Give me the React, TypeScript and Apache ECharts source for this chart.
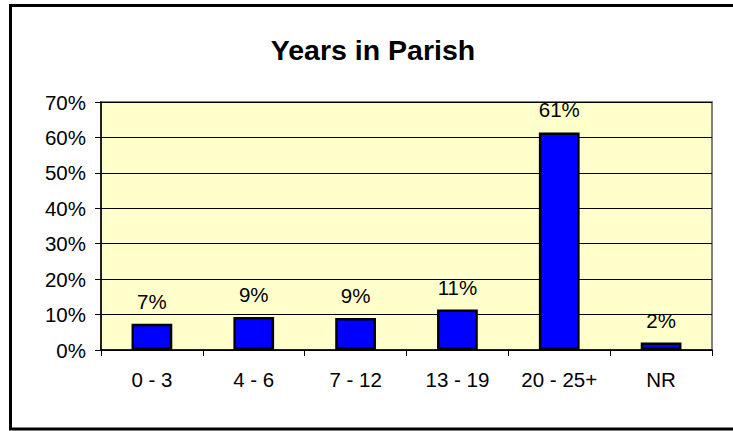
import React, { useEffect, useRef } from "react";
import * as echarts from "echarts";

const categories = ["0 - 3", "4 - 6", "7 - 12", "13 - 19", "20 - 25+", "NR"];
const values = [7.4, 9.3, 9.0, 11.4, 61.4, 2.1];
const yTicks = [0, 10, 20, 30, 40, 50, 60, 70];

export default function App() {
  const ref = useRef<HTMLDivElement>(null);
  useEffect(() => {
    document.body.style.margin = "0";
    const chart = echarts.init(ref.current!, null, { renderer: "svg" });
    const font = "'Liberation Sans', Arial, sans-serif";
    chart.setOption({
      animation: false,
      backgroundColor: "#ffffff",
      title: {
        text: "Years in Parish",
        left: 368,
        top: 30,
        textAlign: "center",
        textStyle: { fontFamily: font, fontSize: 28.5, fontWeight: "bold", color: "#000" },
      },
      graphic: [
        {
          type: "rect",
          shape: { x: 10.5, y: 5.5, width: 740, height: 423.5 },
          style: { fill: "none", stroke: "#000", lineWidth: 3 },
          silent: true,
        },
      ],
      grid: { left: 101, right: 21, top: 102, bottom: 81, show: true, backgroundColor: "#FFFFCC", borderColor: "#808080", borderWidth: 2 },
      xAxis: {
        type: "category",
        data: categories,
        axisLine: { lineStyle: { color: "#000", width: 1.5 } },
        axisTick: { show: true, length: 6, inside: false, alignWithLabel: false, lineStyle: { color: "#000" } },
        axisLabel: { fontFamily: font, fontSize: 20.5, color: "#000", margin: 19 },
      },
      yAxis: {
        type: "value",
        min: yTicks[0],
        max: yTicks[yTicks.length - 1],
        interval: 10,
        axisLine: { show: true, lineStyle: { color: "#000", width: 1.5 } },
        axisTick: { show: true, length: 6, lineStyle: { color: "#000" } },
        splitLine: { lineStyle: { color: "#000", width: 1 } },
        axisLabel: { fontFamily: font, fontSize: 20.5, color: "#000", margin: 15, formatter: (v: number) => v + "%" },
      },
      series: [
        {
          type: "bar",
          data: values,
          barWidth: "40%",
          itemStyle: { color: "#0000FF", borderColor: "#000", borderWidth: 2.5 },
          label: {
            show: true,
            position: "top",
            distance: 12,
            fontFamily: font,
            fontSize: 20.5,
            color: "#000",
            formatter: (p: any) => Math.round(p.value) + "%",
          },
        },
      ],
    });
    return () => chart.dispose();
  }, []);
  return <div ref={ref} style={{ width: 733, height: 431 }} />;
}
